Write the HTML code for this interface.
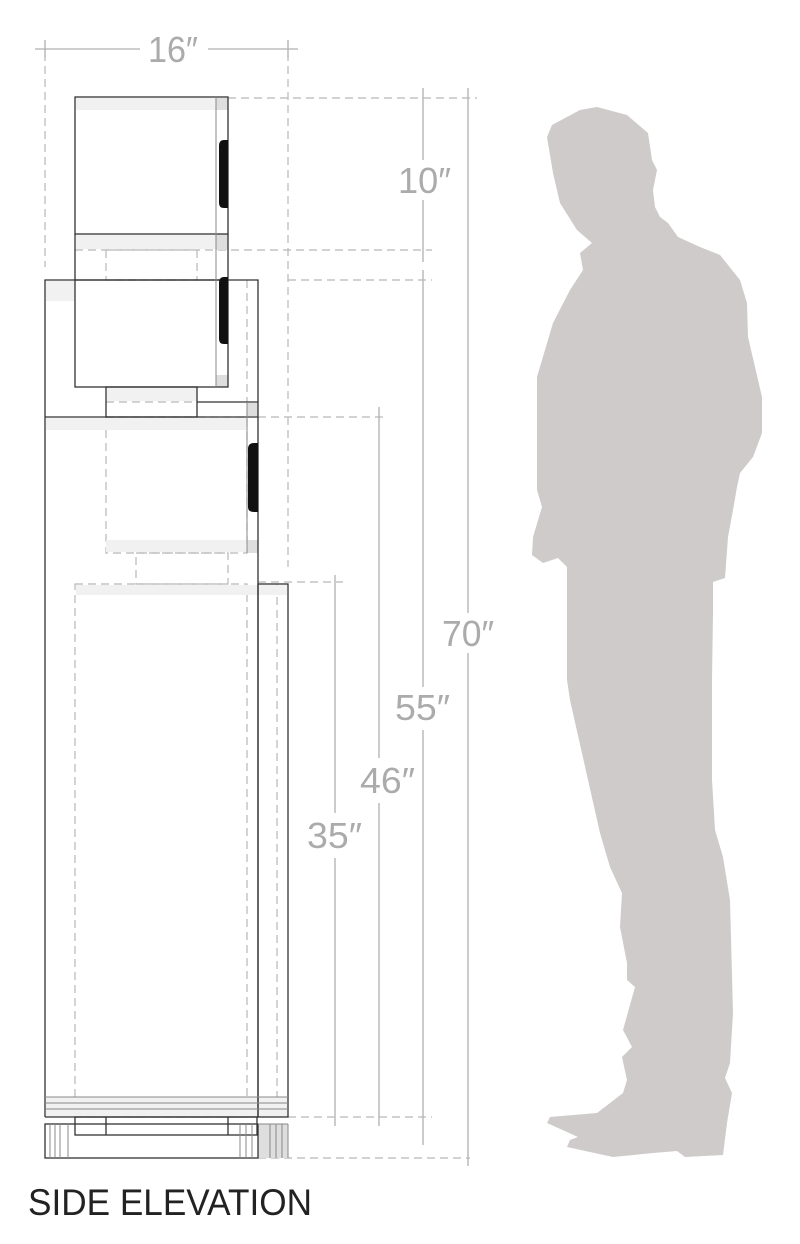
<!DOCTYPE html>
<html><head><meta charset="utf-8"><style>html,body{margin:0;padding:0;background:#fff}svg{display:block}</style></head>
<body>
<svg width="800" height="1244" viewBox="0 0 800 1244" xmlns="http://www.w3.org/2000/svg">
<!-- person -->
<path fill="#cecbca" d="M597,107 L627,115 L648,133 L652,160 L657,170 L653,190 L655,207 L660,217 L668,223 L678,237 L700,247 L720,255 L740,280 L747,303 L748,337 L755,367 L762,397 L762,433 L753,457 L740,473 L737,487 L733,510 L728,537 L725,578 L713,582 L713,613 L712,680 L712,780 L715,830 L723,857 L730,900 L733,1013 L730,1063 L725,1078 L732,1093 L727,1123 L723,1155 L685,1157 L677,1151 L653,1153 L613,1157 L567,1147 L570,1140 L578,1137 L547,1123 L550,1117 L597,1113 L623,1093 L627,1080 L622,1057 L632,1047 L623,1030 L635,987 L627,980 L627,963 L620,927 L622,893 L610,867 L600,833 L570,700 L567,680 L567,613 L567,567 L558,558 L543,563 L532,555 L533,537 L542,507 L537,490 L537,423 L537,377 L553,323 L570,290 L583,270 L580,253 L592,243 L577,230 L560,203 L553,173 L547,137 L552,125 L580,110 Z"/>

<!-- dimension lines (grey solid) -->
<g stroke="#b0b0b0" stroke-width="1.3" fill="none">
<line x1="35" y1="49" x2="140" y2="49"/><line x1="208" y1="49" x2="298" y2="49"/>
<line x1="45" y1="40" x2="45" y2="58"/><line x1="288" y1="40" x2="288" y2="58"/>
<line x1="423" y1="88" x2="423" y2="160"/><line x1="423" y1="200" x2="423" y2="262"/>
<line x1="423" y1="270" x2="423" y2="687"/><line x1="423" y1="730" x2="423" y2="1145"/>
<line x1="468" y1="88" x2="468" y2="613"/><line x1="468" y1="653" x2="468" y2="1166"/>
<line x1="379" y1="407" x2="379" y2="758"/><line x1="379" y1="803" x2="379" y2="1126"/>
<line x1="335" y1="575" x2="335" y2="813"/><line x1="335" y1="858" x2="335" y2="1126"/>
</g>
<!-- dashed extension lines -->
<g stroke="#b8b8b8" stroke-width="1.2" fill="none" stroke-dasharray="8,5">
<line x1="45" y1="40" x2="45" y2="267"/>
<line x1="288" y1="40" x2="288" y2="567"/>
<line x1="228" y1="98" x2="477" y2="98"/>
<line x1="75" y1="250" x2="432" y2="250"/>
<line x1="288" y1="280" x2="432" y2="280"/>
<line x1="258" y1="417" x2="388" y2="417"/>
<line x1="258" y1="582" x2="343" y2="582"/>
<line x1="288" y1="1117" x2="432" y2="1117"/>
<line x1="258" y1="1158" x2="470" y2="1158"/>
<rect x="106" y="250" width="91" height="30"/>
<line x1="106" y1="402" x2="197" y2="402"/>
<rect x="106" y="417" width="141" height="136"/>
<rect x="136" y="553" width="92" height="31"/>
<rect x="75" y="584" width="172" height="533"/>
<line x1="247" y1="280" x2="247" y2="417"/>
<line x1="277" y1="584" x2="277" y2="1117"/>
</g>
<!-- faint shading bands -->
<g fill="#f1f1f1">
<rect x="76" y="98" width="140" height="12"/>
<rect x="76" y="235" width="152" height="14"/>
<rect x="46" y="281" width="29" height="20"/>
<rect x="46" y="418" width="200" height="12"/>
<rect x="107" y="388" width="90" height="13"/>
<rect x="76" y="585" width="211" height="10"/>
<rect x="46" y="1097" width="242" height="20"/>
<rect x="106" y="540" width="140" height="12"/>
</g>
<g fill="#dedede">
<rect x="216" y="98" width="12" height="12"/>
<rect x="216" y="234" width="12" height="16"/>
<rect x="216" y="375" width="12" height="12"/>
<rect x="247" y="403" width="11" height="13"/>
<rect x="247" y="540" width="11" height="13"/>
<rect x="258" y="1124" width="30" height="34"/>
</g>
<!-- cabinet solid lines -->
<g stroke="#333" stroke-width="1.3" fill="none">
<rect x="75" y="97" width="153" height="137"/>
<line x1="75" y1="234" x2="75" y2="280"/><line x1="228" y1="234" x2="228" y2="280"/>
<polyline points="45,1117 45,280 258,280 258,402"/>
<rect x="75" y="280" width="153" height="107"/>
<rect x="106" y="387" width="91" height="30"/>
<polyline points="197,402 258,402 258,1117 45,1117"/>
<line x1="45" y1="417" x2="258" y2="417"/>
<rect x="258" y="584" width="30" height="533"/>
<rect x="45" y="1124" width="213" height="34"/>
<rect x="75" y="1117" width="182" height="18"/>
<line x1="106" y1="1117" x2="106" y2="1135"/>
<line x1="228" y1="1117" x2="228" y2="1135"/>
</g>
<g stroke="#888" stroke-width="1" fill="none">
<line x1="216" y1="97" x2="216" y2="387"/>
<line x1="247" y1="402" x2="247" y2="553"/>
<line x1="45" y1="1097" x2="288" y2="1097"/><line x1="45" y1="1103" x2="288" y2="1103"/>
<line x1="45" y1="1109" x2="288" y2="1109"/>
<line x1="258" y1="1124" x2="288" y2="1124"/><line x1="288" y1="1124" x2="288" y2="1158"/>
<line x1="50" y1="1124" x2="50" y2="1158"/><line x1="55" y1="1124" x2="55" y2="1158"/><line x1="60" y1="1124" x2="60" y2="1158"/><line x1="68" y1="1124" x2="68" y2="1158"/>
<line x1="240" y1="1124" x2="240" y2="1158"/><line x1="246" y1="1124" x2="246" y2="1158"/><line x1="252" y1="1124" x2="252" y2="1158"/>
<line x1="270" y1="1124" x2="270" y2="1158"/><line x1="276" y1="1124" x2="276" y2="1158"/><line x1="282" y1="1124" x2="282" y2="1158"/>
</g>
<!-- handles -->
<g fill="#111">
<path d="M228,140 L224,140 Q219,140 219,146 L219,203 Q219,208 224,208 L228,208 Z"/>
<path d="M228,277 L224,277 Q219,277 219,283 L219,339 Q219,344 224,344 L228,344 Z"/>
<path d="M258,443 L254,443 Q248,443 248,449 L248,507 Q248,512 254,512 L258,512 Z"/>
</g>
<!-- labels -->
<g fill="#ababab" font-family="Liberation Sans, sans-serif" font-size="36">
<text x="148" y="62" textLength="50" lengthAdjust="spacingAndGlyphs">16″</text>
<text x="398" y="193" textLength="53" lengthAdjust="spacingAndGlyphs">10″</text>
<text x="442" y="646" textLength="52" lengthAdjust="spacingAndGlyphs">70″</text>
<text x="395" y="720" textLength="55" lengthAdjust="spacingAndGlyphs">55″</text>
<text x="360" y="793" textLength="55" lengthAdjust="spacingAndGlyphs">46″</text>
<text x="307" y="848" textLength="55" lengthAdjust="spacingAndGlyphs">35″</text>
</g>
<text x="28" y="1215" fill="#222" font-family="Liberation Sans, sans-serif" font-size="37" textLength="284" lengthAdjust="spacingAndGlyphs">SIDE ELEVATION</text>
</svg>
</body></html>
